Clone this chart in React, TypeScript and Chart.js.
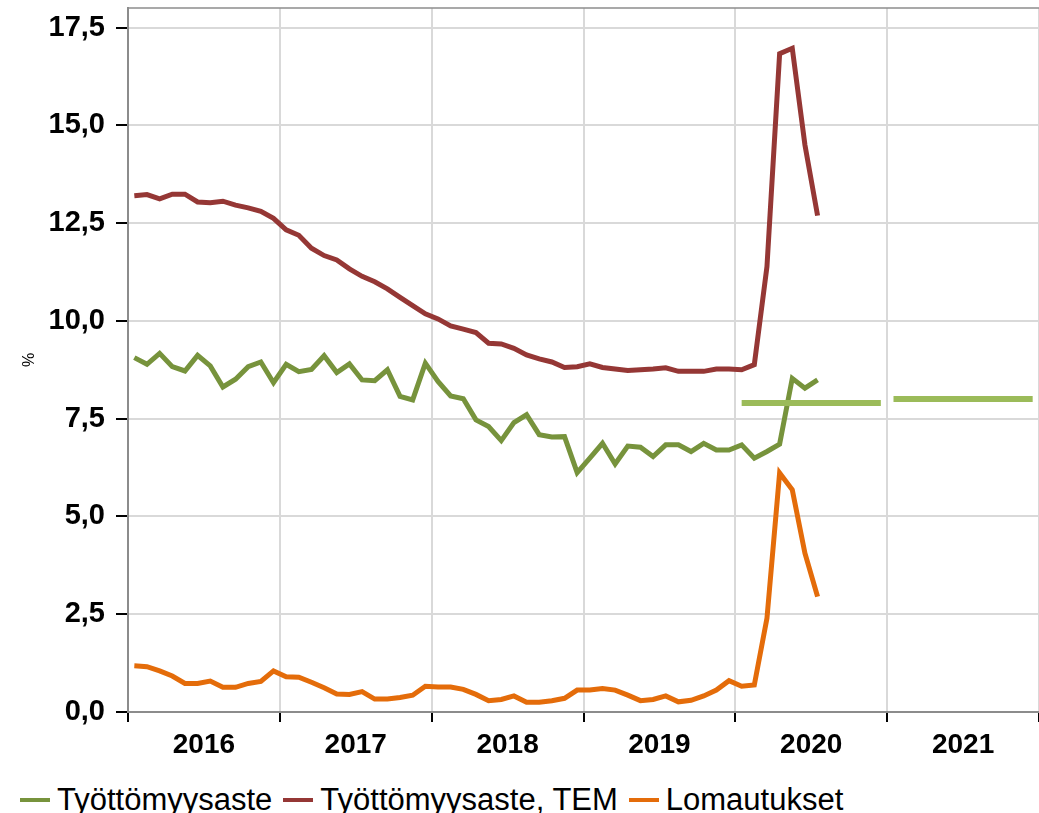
import React, { useEffect, useRef } from 'react';
import { Chart, registerables } from 'chart.js';

Chart.register(...registerables);

const years = ['2016', '2017', '2018', '2019', '2020', '2021'];
const yTickValues = [0, 2.5, 5, 7.5, 10, 12.5, 15, 17.5];

// Monthly values from Jan 2016 to Jul 2020
const unemploymentRate = [
  9.06, 8.89, 9.17, 8.83, 8.72, 9.12, 8.85, 8.31, 8.51, 8.83, 8.95, 8.42,
  8.89, 8.70, 8.76, 9.11, 8.68, 8.90, 8.49, 8.47, 8.75, 8.07, 7.98, 8.92,
  8.45, 8.08, 8.01, 7.47, 7.30, 6.94, 7.40, 7.60, 7.09, 7.03, 7.04, 6.12,
  6.49, 6.87, 6.34, 6.80, 6.77, 6.53, 6.83, 6.83, 6.66, 6.87, 6.70, 6.70,
  6.83, 6.49, 6.66, 6.85, 8.53, 8.28, 8.49,
];

const unemploymentTEM = [
  13.20, 13.23, 13.12, 13.24, 13.24, 13.04, 13.02, 13.06, 12.96, 12.89, 12.80, 12.62,
  12.33, 12.19, 11.86, 11.67, 11.56, 11.33, 11.14, 11.00, 10.82, 10.60, 10.39, 10.18,
  10.05, 9.87, 9.79, 9.70, 9.43, 9.41, 9.30, 9.13, 9.03, 8.95, 8.81, 8.83,
  8.90, 8.81, 8.77, 8.73, 8.75, 8.77, 8.80, 8.71, 8.71, 8.71, 8.77, 8.77,
  8.75, 8.88, 11.39, 16.83, 16.97, 14.50, 12.69,
];

const layoffs = [
  1.18, 1.16, 1.05, 0.92, 0.73, 0.73, 0.79, 0.63, 0.63, 0.73, 0.78, 1.05,
  0.90, 0.89, 0.76, 0.62, 0.46, 0.45, 0.52, 0.33, 0.33, 0.37, 0.43, 0.66,
  0.64, 0.64, 0.58, 0.45, 0.29, 0.32, 0.41, 0.25, 0.25, 0.29, 0.35, 0.56,
  0.56, 0.60, 0.56, 0.43, 0.29, 0.32, 0.41, 0.26, 0.30, 0.41, 0.56, 0.80,
  0.66, 0.69, 2.40, 6.11, 5.68, 4.06, 2.95,
];

// Forecast levels for 2020 and 2021 (monthly)
const forecast2020 = [7.9, 7.9, 7.9, 7.9, 7.9, 7.9, 7.9, 7.9, 7.9, 7.9, 7.9, 7.9];
const forecast2021 = [8.0, 8.0, 8.0, 8.0, 8.0, 8.0, 8.0, 8.0, 8.0, 8.0, 8.0, 8.0];

const seriesNames = ['Työttömyysaste', 'Työttömyysaste, TEM', 'Lomautukset'];
const seriesColors = ['#77933C', '#953735', '#E46C0A'];
const forecastColor = '#9BBB59';

const FONT = '"Liberation Sans", Arial, Helvetica, sans-serif';

const toPoints = (vals: number[], startMonth: number) =>
  vals.map((v, i) => ({ x: startMonth + i + 0.5, y: v }));

const topBorder = {
  id: 'topBorder',
  afterDraw(chart: any) {
    const { ctx, chartArea } = chart;
    ctx.save();
    ctx.strokeStyle = '#8c8c8c';
    ctx.lineWidth = 1.5;
    ctx.beginPath();
    ctx.moveTo(chartArea.left, chartArea.top);
    ctx.lineTo(chartArea.right, chartArea.top);
    ctx.stroke();
    ctx.restore();
  },
};

export default function App() {
  const canvasRef = useRef<HTMLCanvasElement | null>(null);

  useEffect(() => {
    if (!canvasRef.current) return;
    const lineDs = (label: string, data: any[], color: string, width: number) => ({
      label,
      data,
      borderColor: color,
      backgroundColor: color,
      borderWidth: width,
      pointRadius: 0,
      tension: 0,
      fill: false,
      borderCapStyle: 'butt' as const,
    });
    const chart = new Chart(canvasRef.current, {
      type: 'line',
      data: {
        datasets: [
          lineDs('Ennuste 2020', toPoints(forecast2020, 48), forecastColor, 6),
          lineDs('Ennuste 2021', toPoints(forecast2021, 60), forecastColor, 6),
          lineDs(seriesNames[2], toPoints(layoffs, 0), seriesColors[2], 5),
          lineDs(seriesNames[0], toPoints(unemploymentRate, 0), seriesColors[0], 5),
          lineDs(seriesNames[1], toPoints(unemploymentTEM, 0), seriesColors[1], 5),
        ],
      },
      options: {
        animation: false,
        responsive: false,
        maintainAspectRatio: false,
        layout: { padding: { top: 8, left: 0, right: 0, bottom: 0 } },
        plugins: {
          legend: { display: false },
          tooltip: { enabled: false },
        },
        scales: {
          x: {
            type: 'linear',
            min: 0,
            max: 72,
            afterBuildTicks: (s: any) => {
              s.ticks = Array.from({ length: 13 }, (_, i) => ({ value: i * 6 }));
            },
            afterFit: (s: any) => {
              s.height = 58;
              s.paddingLeft = 0;
              s.paddingRight = 0;
            },
            grid: {
              color: (c: any) => (c.tick && c.tick.value % 12 === 0 ? '#d9d9d9' : 'rgba(0,0,0,0)'),
              tickColor: (c: any) => (c.tick && c.tick.value % 12 === 0 ? '#000000' : 'rgba(0,0,0,0)'),
              lineWidth: 2,
              tickWidth: 2,
              tickLength: 10,
            },
            border: { color: '#8c8c8c', width: 2 },
            ticks: {
              autoSkip: false,
              maxRotation: 0,
              minRotation: 0,
              padding: 6,
              color: '#000',
              font: { family: FONT, size: 28, weight: 'bold' },
              callback: (v: any) => (v % 12 === 6 ? years[(v - 6) / 12] : ''),
            },
          },
          y: {
            min: 0,
            max: 18,
            afterBuildTicks: (s: any) => {
              s.ticks = yTickValues.map((v) => ({ value: v }));
            },
            afterFit: (s: any) => {
              s.width = 128;
              s.paddingTop = 0;
              s.paddingBottom = 0;
            },
            grid: {
              color: '#d9d9d9',
              tickColor: '#000000',
              lineWidth: 2,
              tickWidth: 2,
              tickLength: 12,
            },
            border: { color: '#8c8c8c', width: 2 },
            ticks: {
              padding: 11,
              color: '#000',
              font: { family: FONT, size: 29, weight: 'bold' },
              callback: (v: any) => Number(v).toFixed(1).replace('.', ','),
            },
            title: {
              display: true,
              text: '%',
              color: '#000',
              font: { family: FONT, size: 16 },
              padding: { top: 20, bottom: 0 },
            },
          },
        },
      },
      plugins: [topBorder],
    });
    return () => chart.destroy();
  }, []);

  const legendItems = [
    { name: seriesNames[0], color: seriesColors[0] },
    { name: seriesNames[1], color: seriesColors[1] },
    { name: seriesNames[2], color: seriesColors[2] },
  ];

  return (
    <div style={{ position: 'absolute', left: 0, top: 0, width: 1039, height: 813, background: '#fff', overflow: 'hidden' }}>
      <canvas ref={canvasRef} width={1039} height={770} style={{ display: 'block', width: 1039, height: 770 }} />
      <div
        style={{
          position: 'absolute',
          left: 20,
          top: 784,
          display: 'flex',
          alignItems: 'center',
          fontFamily: FONT,
          fontSize: 31,
          lineHeight: '32px',
          color: '#000',
          whiteSpace: 'nowrap',
        }}
      >
        {legendItems.map((it) => (
          <div key={it.name} style={{ display: 'flex', alignItems: 'center', marginRight: 11 }}>
            <span style={{ display: 'inline-block', width: 30, height: 4, background: it.color, marginRight: 7 }} />
            <span>{it.name}</span>
          </div>
        ))}
      </div>
    </div>
  );
}
